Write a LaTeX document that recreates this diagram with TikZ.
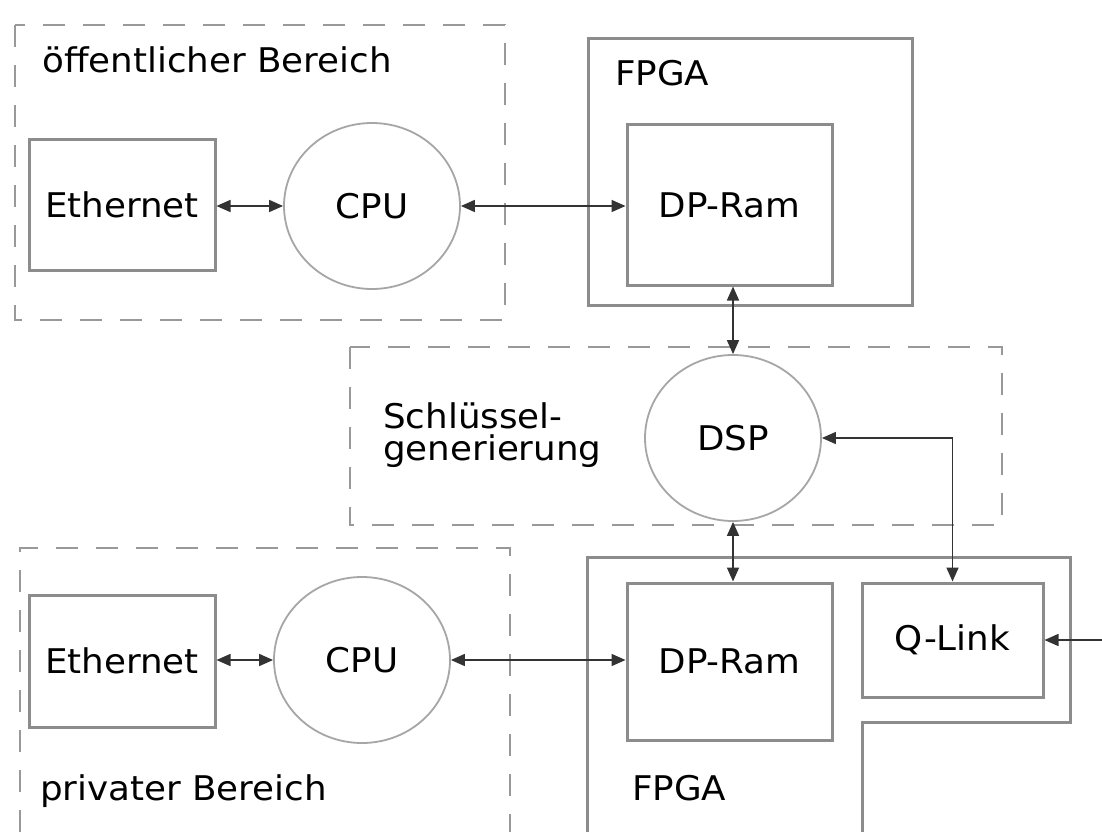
\documentclass[tikz,border=0pt]{standalone}
\usepackage{fontspec}
\setmainfont{DejaVu Sans}[FakeStretch=1.05]
\usetikzlibrary{shapes.geometric,arrows.meta}
\begin{document}
\begin{tikzpicture}[x=1pt,y=-1pt,
  font=\fontsize{34}{32}\selectfont,
  box/.style={draw=black!45,line width=3pt,inner sep=0pt},
  proc/.style={ellipse,draw=black!35,line width=1.8pt,minimum width=176pt,minimum height=166pt,inner sep=0pt},
  zone/.style={draw=black!40,line width=2.2pt,dash pattern=on 22pt off 18pt},
  conn/.style={draw=black!80,line width=1.6pt},
  both/.style={conn,{Triangle[length=14pt,width=12pt]}-{Triangle[length=14pt,width=12pt]}},
  one/.style={conn,-{Triangle[length=14pt,width=12pt]}},
  lbl/.style={inner sep=0pt,anchor=base west},
]
\useasboundingbox[fill=white] (0,0) rectangle (1102,832);

% zones
\draw[zone] (15,25) rectangle (505,320);
\draw[zone] (350,347) rectangle (1002,525);
\draw[zone] (20,832) -- (20,548) -- (510,548) -- (510,832);

% FPGA frames
\node[box,minimum width=324pt,minimum height=266pt] (fpga1) at (750,172) {};
\draw[box] (587,832) -- (587,557) -- (1070,557) -- (1070,722) -- (862,722) -- (862,832);

% labels
\node[lbl] (pub) at (42,73) {öffentlicher Bereich};
\node[lbl] (fpgaA) at (615,86) {FPGA};
\node[lbl] (key1) at (383,428) {Schlüssel-};
\node[lbl] (key2) at (383,460) {generierung};
\node[lbl] (priv) at (40,800) {privater Bereich};
\node[lbl] (fpgaB) at (632,800) {FPGA};

% blocks
\node[box,minimum width=186pt,minimum height=131pt] (eth1) at (122,204.5) {Ethernet};
\node[proc] (cpu1) at (372,206) {CPU};
\node[box,minimum width=205pt,minimum height=160pt] (ram1) at (729.5,205) {DP-Ram};
\node[proc] (dsp) at (733,438) {DSP};
\node[box,minimum width=205pt,minimum height=157pt] (ram2) at (729.5,661.5) {DP-Ram};
\node[box,minimum width=181pt,minimum height=114pt] (qlink) at (952.5,640) {Q-Link};
\node[box,minimum width=186pt,minimum height=132pt] (eth2) at (122,661) {Ethernet};
\node[proc] (cpu2) at (362,660) {CPU};
\coordinate (ext) at (1102,640);

% connectors
\draw[both] (eth1.east |- cpu1.west) -- (cpu1.west);
\draw[both] (cpu1.east) -- (cpu1.east -| ram1.west);
\draw[both] (ram1.south -| dsp.north) -- (dsp.north);
\draw[both] (dsp.south) -- (ram2.north -| dsp.south);
\draw[both] (dsp.east) -- (dsp.east -| qlink.north) -- (qlink.north);
\draw[one] (ext) -- (qlink.east);
\draw[both] (eth2.east |- cpu2.west) -- (cpu2.west);
\draw[both] (cpu2.east) -- (cpu2.east -| ram2.west);
\end{tikzpicture}
\end{document}
